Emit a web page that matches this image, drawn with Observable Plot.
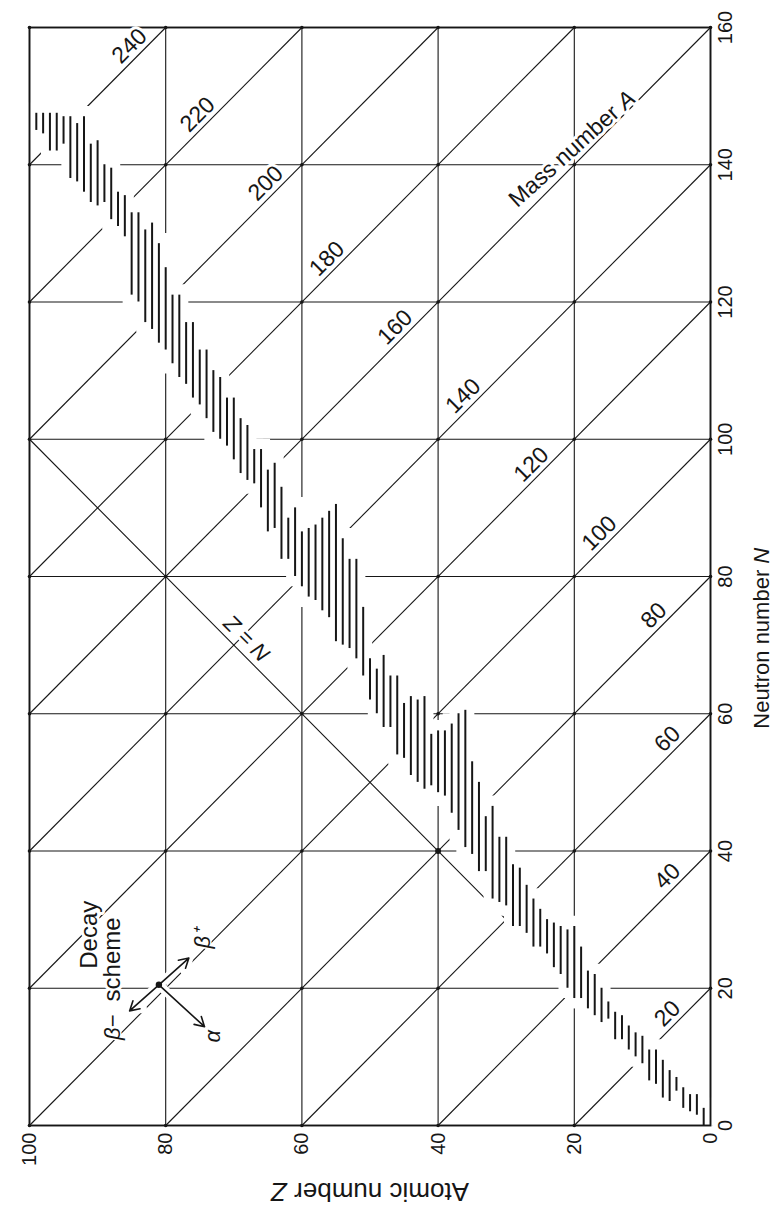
<!DOCTYPE html>
<html>
<head>
<meta charset="utf-8">
<script src="https://cdn.jsdelivr.net/npm/d3@7"></script>
<script src="https://cdn.jsdelivr.net/npm/@observablehq/plot@0.6"></script>
<style>
  html, body { margin: 0; padding: 0; background: #fff; }
  #chart svg { display: block; }
</style>
</head>
<body>
<div id="chart"></div>
<script>
// ---- Data ----
const zTicks = [100, 80, 60, 40, 20, 0];                 // atomic number Z grid / tick labels
const nTicks = [0, 20, 40, 60, 80, 100, 120, 140, 160];  // neutron number N grid / tick labels
const massNumbers = [20, 40, 60, 80, 100, 120, 140, 160, 180, 200, 220, 240]; // lines of constant A
const massLabelZ  = [5, 5, 5, 7, 15, 25, 35, 45, 55, 64, 74, 84];            // Z where each A label sits

// Band of nuclides: for each Z, lowest and highest N drawn
const bandZ = [1,2,3,4,5,6,7,8,9,10,11,12,13,14,15,16,17,18,19,20,21,22,23,24,25,26,27,28,29,30,
  31,32,33,34,35,36,37,38,39,40,41,42,43,44,45,46,47,48,49,50,51,52,53,54,55,56,57,58,59,60,
  61,62,63,64,65,66,67,68,69,70,71,72,73,74,75,76,77,78,79,80,81,82,83,84,85,86,87,88,89,90,
  91,92,93,94,95,96,97,98,99];
const bandLow = [0,1.5,2,2.5,5,3.5,4,6,6.5,9,10,11,12.5,12.5,15.5,15,16,17,18.5,18.5,20,22,23,25,26,26,28,29,29,32,
  32.5,33,37,37,39.5,40.5,43,45.5,48,48.5,49.5,49,50,51,53.5,54,58,58,60,62,65.5,68,69.5,70,70.5,74,75,76.5,77,78.5,
  80,82.5,82.5,87,86.5,90,93.5,94,95,97,99,100,101,103,105,106,108,109,111,113,114,116,117,120,121,129.5,131,132,134.5,134,
  134.5,136,137.5,138,143,142,142,144.5,145];
const bandHigh = [2.5,4.5,4.5,5.5,7,8,9.5,11,11,13,13.5,14.5,16,16.5,18,20,22,22.5,26,29,28.5,29,29.5,30,31.5,33,35,37.5,38,42,
  42,46.5,45,50,53,60.5,60,58.5,57.5,57.5,57,62.5,62,62.5,61.5,65.5,65.5,68.5,66.5,68,75.5,82.5,82.5,85.5,90.5,89.5,88.5,87.5,87,86.5,
  90,88.5,93,96.5,95.5,98.5,98.5,102,103,106,106,109,110,113,113,117,117,121,121,125,128.5,131.5,130.5,133,133,135.5,136,139.5,140,143.5,
  143,147,146,147,147,147.5,147.5,147.5,147.5];

const diagonalNZ = [{z: 0, n: 0}, {z: 100, n: 100}];   // the N = Z line
const decayCenter = {z: 81, n: 20.5};
const decayArrows = [
  {name: "β−", z: 85.3, n: 16.7, lz: 87.8, ln: 14.3},
  {name: "β⁺", z: 76.6, n: 24.4, lz: 74.6, ln: 27.2},
  {name: "α",  z: 74.3, n: 14.4, lz: 73.0, ln: 13.0}
];
const decayWords = [{z: 91.2, n: 27.8, t: "Decay"}, {z: 87.8, n: 24.2, t: "scheme"}];

// ---- Derived tables ----
const band = bandZ.map((z, i) => ({z, lo: bandLow[i], hi: bandHigh[i]}));
const massLines = massNumbers.map(a => ({a, z1: Math.min(100, a), z2: Math.max(0, a - 160)}));
const massLabels = massNumbers.map((a, i) => ({a, z: massLabelZ[i]}));
const crossings = zTicks.flatMap(z => nTicks.map(n => ({z, n})));

const ink = "#161616";
const font = "'Liberation Sans', Arial, Helvetica, sans-serif";
const halo = {stroke: "#fff", strokeWidth: 6, paintOrder: "stroke"};

const chart = Plot.plot({
  width: 778,
  height: 1211,
  marginLeft: 29,
  marginRight: 68,
  marginTop: 27,
  marginBottom: 86,
  x: {domain: [100, 0], axis: null},
  y: {domain: [0, 160], axis: null},
  style: {fontFamily: font, background: "#fff", color: ink, overflow: "visible"},
  marks: [
    // grid
    Plot.ruleX(zTicks, {x: d => d, y1: 0, y2: 160, stroke: ink, strokeWidth: 1.1}),
    Plot.ruleY(nTicks, {y: d => d, x1: 0, x2: 100, stroke: ink, strokeWidth: 1.1}),
    // constant mass number lines
    Plot.link(massLines, {x1: "z1", y1: d => d.a - d.z1, x2: "z2", y2: d => d.a - d.z2, stroke: ink, strokeWidth: 1.1}),
    // N = Z
    Plot.line(diagonalNZ, {x: "z", y: "n", stroke: ink, strokeWidth: 1.1}),
    // grid crossings
    Plot.dot(crossings, {x: "z", y: "n", r: 1.8, fill: ink}),
    Plot.dot([{z: 40, n: 40}], {x: "z", y: "n", r: 3, fill: ink}),
    // white gap around the nuclide band
    Plot.ruleX(band, {x: "z", y1: d => d.lo - 1.5, y2: d => d.hi + 1.5, stroke: "#fff", strokeWidth: 18}),
    // nuclide band
    Plot.ruleX(band, {x: "z", y1: "lo", y2: "hi", stroke: ink, strokeWidth: 2}),
    // frame
    Plot.frame({stroke: ink, strokeWidth: 1.9}),
    // mass-number labels
    Plot.text(massLabels, {x: "z", y: d => d.a - d.z, text: d => String(d.a), rotate: -45,
      dx: -9, dy: -9, fontSize: 23, fill: ink, ...halo}),
    Plot.text([{z: 19, a: 160}], {x: "z", y: d => d.a - d.z, text: () => "Mass number A", rotate: -42,
      dx: -9, dy: -9, fontSize: 23, fill: ink, ...halo}),
    Plot.text([{z: 69.5, n: 69.5}], {x: "z", y: "n", text: () => "N = Z", rotate: -135,
      dx: 10, dy: -10, fontSize: 22, fill: ink, ...halo}),
    // decay scheme
    Plot.arrow(decayArrows, {x1: () => decayCenter.z, y1: () => decayCenter.n, x2: "z", y2: "n",
      stroke: "#fff", strokeWidth: 9, headLength: 10}),
    Plot.arrow(decayArrows, {x1: () => decayCenter.z, y1: () => decayCenter.n, x2: "z", y2: "n",
      stroke: ink, strokeWidth: 1.6, headLength: 10}),
    Plot.dot([decayCenter], {x: "z", y: "n", r: 3.2, fill: ink}),
    Plot.text(decayWords, {x: "z", y: "n", text: "t", rotate: -90, fontSize: 24, fill: ink, ...halo}),
    Plot.text(decayArrows, {x: "lz", y: "ln", text: "name", rotate: -90, fontSize: 22, fontStyle: "italic",
      fill: ink, stroke: "#fff", strokeWidth: 3, paintOrder: "stroke"}),
    // tick labels
    Plot.text(zTicks, {x: d => d, y: 0, text: d => String(d), rotate: -90, textAnchor: "end",
      lineAnchor: "middle", dy: 7, fontSize: 20, fill: ink}),
    Plot.text(nTicks, {x: 0, y: d => d, text: d => String(d), rotate: -90, textAnchor: "middle",
      lineAnchor: "middle", dx: 15, fontSize: 20, fill: ink}),
    // axis titles
    Plot.text([{z: 50}], {x: "z", y: () => 0, text: () => "Atomic number Z", rotate: 180, dy: 66,
      fontSize: 26, fill: ink}),
    Plot.text([{n: 71}], {x: () => 0, y: "n", text: () => "Neutron number N", rotate: -90, dx: 51,
      fontSize: 22, fill: ink})
  ]
});

// italic variable letters
d3.select(chart).selectAll("text").each(function () {
  const t = this.textContent;
  const sel = d3.select(this);
  if (/^(Mass number A|Atomic number Z|Neutron number N)$/.test(t)) {
    const head = t.slice(0, -1), v = t.slice(-1);
    sel.text(null);
    sel.append("tspan").text(head);
    sel.append("tspan").attr("font-style", "italic").text(v);
  } else if (t === "N = Z") {
    sel.text(null);
    sel.append("tspan").attr("font-style", "italic").text("N");
    sel.append("tspan").text(" = ");
    sel.append("tspan").attr("font-style", "italic").text("Z");
  }
});

document.getElementById("chart").appendChild(chart);
</script>
</body>
</html>
